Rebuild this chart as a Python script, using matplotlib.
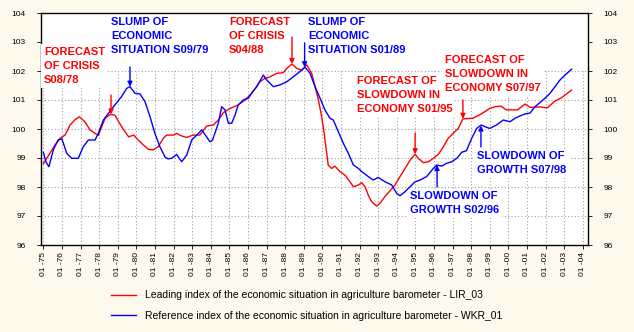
import matplotlib.pyplot as plt
from matplotlib.lines import Line2D

# leading index LIR_03 (decimal year, value)
lir_years = [1975.00, 1975.36, 1975.63, 1975.90, 1976.17, 1976.44, 1976.70, 1976.94,
             1977.24, 1977.51, 1977.78, 1977.96, 1978.14, 1978.32, 1978.59, 1978.85,
             1979.05, 1979.32, 1979.59, 1979.86, 1980.10, 1980.38, 1980.65, 1980.91,
             1981.18, 1981.45, 1981.63, 1981.99, 1982.17, 1982.44, 1982.70, 1983.06,
             1983.42, 1983.78, 1984.14, 1984.41, 1984.68, 1985.04, 1985.48, 1985.84,
             1986.11, 1986.40, 1986.65, 1986.92, 1987.19, 1987.55, 1987.90, 1988.09,
             1988.36, 1988.62, 1988.89, 1989.16, 1989.43, 1989.61, 1989.79, 1989.97,
             1990.10, 1990.32, 1990.50, 1990.68, 1990.95, 1991.22, 1991.49, 1991.67,
             1991.94, 1992.12, 1992.30, 1992.47, 1992.66, 1992.92, 1993.10, 1993.37,
             1993.64, 1993.91, 1994.18, 1994.45, 1994.72, 1994.99, 1995.16, 1995.43,
             1995.70, 1995.97, 1996.24, 1996.51, 1996.77, 1997.04, 1997.31, 1997.56,
             1998.10, 1998.60, 1999.00, 1999.30, 1999.60, 1999.90, 2000.50, 2000.90,
             2001.17, 2001.70, 2002.10, 2002.50, 2002.86, 2003.40]
lir_values = [98.80, 99.17, 99.45, 99.68, 99.79, 100.14, 100.32, 100.42,
              100.25, 99.97, 99.85, 99.78, 100.08, 100.37, 100.50, 100.48,
              100.25, 99.97, 99.73, 99.79, 99.62, 99.45, 99.30, 99.28,
              99.39, 99.68, 99.79, 99.79, 99.85, 99.76, 99.71, 99.79,
              99.79, 100.10, 100.14, 100.31, 100.56, 100.71, 100.83, 101.00,
              101.17, 101.40, 101.63, 101.75, 101.80, 101.92, 101.94, 102.09,
              102.24, 102.09, 102.03, 102.21, 101.92, 101.46, 101.00, 100.42,
              99.85, 98.75, 98.64, 98.72, 98.53, 98.41, 98.18, 98.01,
              98.07, 98.15, 98.01, 97.72, 97.49, 97.34, 97.44, 97.67,
              97.87, 98.07, 98.36, 98.64, 98.93, 99.13, 98.99, 98.84,
              98.87, 98.99, 99.13, 99.39, 99.68, 99.85, 100.02, 100.35,
              100.37, 100.54, 100.71, 100.77, 100.79, 100.66, 100.66, 100.86,
              100.75, 100.76, 100.73, 100.96, 101.08, 101.34]

# reference index WKR_01
wkr_years = [1975.00, 1975.15, 1975.30, 1975.55, 1975.80, 1976.00, 1976.26, 1976.53,
             1976.88, 1977.15, 1977.42, 1977.78, 1977.96, 1978.23, 1978.50, 1978.85,
             1979.21, 1979.48, 1979.66, 1979.93, 1980.20, 1980.47, 1980.74, 1981.00,
             1981.27, 1981.54, 1981.70, 1981.90, 1982.17, 1982.44, 1982.71, 1982.98,
             1983.25, 1983.52, 1983.78, 1983.96, 1984.10, 1984.41, 1984.59, 1984.77,
             1984.95, 1985.13, 1985.31, 1985.48, 1985.75, 1986.02, 1986.20, 1986.47,
             1986.83, 1987.01, 1987.37, 1987.73, 1988.09, 1988.44, 1988.80, 1989.07,
             1989.34, 1989.61, 1989.88, 1990.14, 1990.41, 1990.59, 1990.86, 1991.13,
             1991.40, 1991.67, 1991.94, 1992.12, 1992.47, 1992.74, 1993.01, 1993.37,
             1993.73, 1994.00, 1994.18, 1994.45, 1994.72, 1994.99, 1995.26, 1995.61,
             1995.97, 1996.15, 1996.42, 1996.69, 1996.96, 1997.23, 1997.50, 1997.75,
             1998.03, 1998.30, 1998.55, 1998.75, 1999.00, 1999.37, 1999.73, 2000.09,
             2000.36, 2000.63, 2000.90, 2001.17, 2001.44, 2001.70, 2001.97, 2002.24,
             2002.51, 2002.78, 2003.05, 2003.40]
wkr_values = [99.20, 98.85, 98.70, 99.30, 99.62, 99.66, 99.16, 98.99,
              98.99, 99.39, 99.62, 99.62, 99.85, 100.31, 100.54, 100.83,
              101.12, 101.40, 101.46, 101.23, 101.21, 100.94, 100.42, 99.85,
              99.39, 99.04, 98.97, 98.99, 99.12, 98.87, 99.10, 99.62,
              99.79, 99.97, 99.73, 99.56, 99.62, 100.20, 100.77, 100.66,
              100.20, 100.20, 100.48, 100.83, 101.00, 101.06, 101.23, 101.46,
              101.86, 101.69, 101.46, 101.52, 101.63, 101.80, 101.98, 102.13,
              101.92, 101.46, 101.06, 100.66, 100.37, 100.31, 99.91, 99.51,
              99.16, 98.76, 98.64, 98.53, 98.36, 98.24, 98.33, 98.18,
              98.07, 97.78, 97.70, 97.84, 98.01, 98.18, 98.24, 98.36,
              98.64, 98.76, 98.72, 98.82, 98.87, 98.99, 99.20, 99.25,
              99.68, 100.02, 100.14, 100.08, 100.02, 100.14, 100.31, 100.25,
              100.37, 100.45, 100.52, 100.55, 100.77, 100.91, 101.06, 101.23,
              101.46, 101.69, 101.86, 102.06]

tick_years = list(range(1975, 2005))
tick_labels = ["01 -%02d" % (y % 100) for y in tick_years]

# event labels: text, colour, text anchor (year, value), arrow tail, arrow tip
events = [
    ("FORECAST\nOF CRISIS\nS08/78", "red", (1975.04, 102.82), (1978.64, 101.17), (1978.64, 100.50)),
    ("SLUMP OF\nECONOMIC\nSITUATION S09/79", "blue", (1978.64, 103.85), (1979.66, 102.14), (1979.66, 101.46)),
    ("FORECAST\nOF CRISIS\nS04/88", "red", (1984.98, 103.85), (1988.37, 103.17), (1988.37, 102.24)),
    ("SLUMP OF\nECONOMIC\nSITUATION S01/89", "blue", (1989.23, 103.85), (1989.05, 102.97), (1989.05, 102.13)),
    ("FORECAST OF\nSLOWDOWN IN\nECONOMY S01/95", "red", (1991.86, 101.82), (1994.99, 99.86), (1994.99, 99.13)),
    ("FORECAST OF\nSLOWDOWN IN\nECONOMY S07/97", "red", (1996.60, 102.54), (1997.56, 101.00), (1997.56, 100.35)),
    ("SLOWDOWN OF\nGROWTH S02/96", "blue", (1994.71, 97.85), (1996.17, 98.00), (1996.17, 98.76)),
    ("SLOWDOWN OF\nGROWTH S07/98", "blue", (1998.32, 99.23), (1998.53, 99.38), (1998.53, 100.12)),
]

bg = "#FDF9EC"
plt.rcParams["font.family"] = ["Liberation Sans", "DejaVu Sans"]

fig = plt.figure(figsize=(6.34, 3.32), dpi=100, facecolor=bg)
ax = fig.add_axes([41 / 634, 1 - 245 / 332, 547 / 634, 232 / 332])
ax.set_facecolor("white")

x0 = 1975 - 2.3 / 18.6
x1 = 1975 + (588 - 43.3) / 18.6
ax.set_xlim(x0, x1)
ax.set_ylim(96, 104)

# dotted grid only up to the 102 level
for v in range(97, 103):
    ax.plot([x0, x1], [v, v], color="#A0A0A0", lw=0.8, ls=(0, (1, 2)), zorder=1)
for y in tick_years:
    ax.plot([y, y], [96, 102], color="#A0A0A0", lw=0.8, ls=(0, (1, 2)), zorder=1)

ax.plot(lir_years, lir_values, color="#FF0000", lw=1.0, zorder=4)
ax.plot(wkr_years, wkr_values, color="#0000FF", lw=1.0, zorder=4)

for text, col, pos, tail, tip in events:
    ax.text(pos[0], pos[1], text, color=col, fontsize=8, fontweight="bold",
            ha="left", va="top", linespacing=1.5, zorder=3,
            bbox=dict(fc="white", ec="none", pad=2))
    ax.annotate("", xy=tip, xytext=tail, zorder=5,
                arrowprops=dict(arrowstyle="-|>", color=col, lw=1.0,
                                mutation_scale=7, shrinkA=0, shrinkB=0))

ax.set_xticks(tick_years)
ax.set_xticklabels(tick_labels, rotation=90, fontsize=5.5)
ax.set_yticks(range(96, 105))
ax.tick_params(axis="both", direction="out", length=3, width=0.6, labelsize=6,
               pad=2, right=True, labelright=True)
ax.tick_params(axis="y", pad=8)
for s in ax.spines.values():
    s.set_linewidth(1.0)
    s.set_color("black")

handles = [Line2D([], [], color="#FF0000", lw=1.0),
           Line2D([], [], color="#0000FF", lw=1.0)]
labels = ["Leading index of the economic situation in agriculture barometer - LIR_03",
          "Reference index of the economic situation in agriculture barometer - WKR_01"]
fig.legend(handles, labels, loc="upper left", bbox_to_anchor=(102 / 634, 1 - 281 / 332),
           frameon=False, fontsize=7.5, handlelength=2.4, labelspacing=1.0,
           handletextpad=0.8)

fig.savefig("out.png", dpi=100, facecolor=bg)
